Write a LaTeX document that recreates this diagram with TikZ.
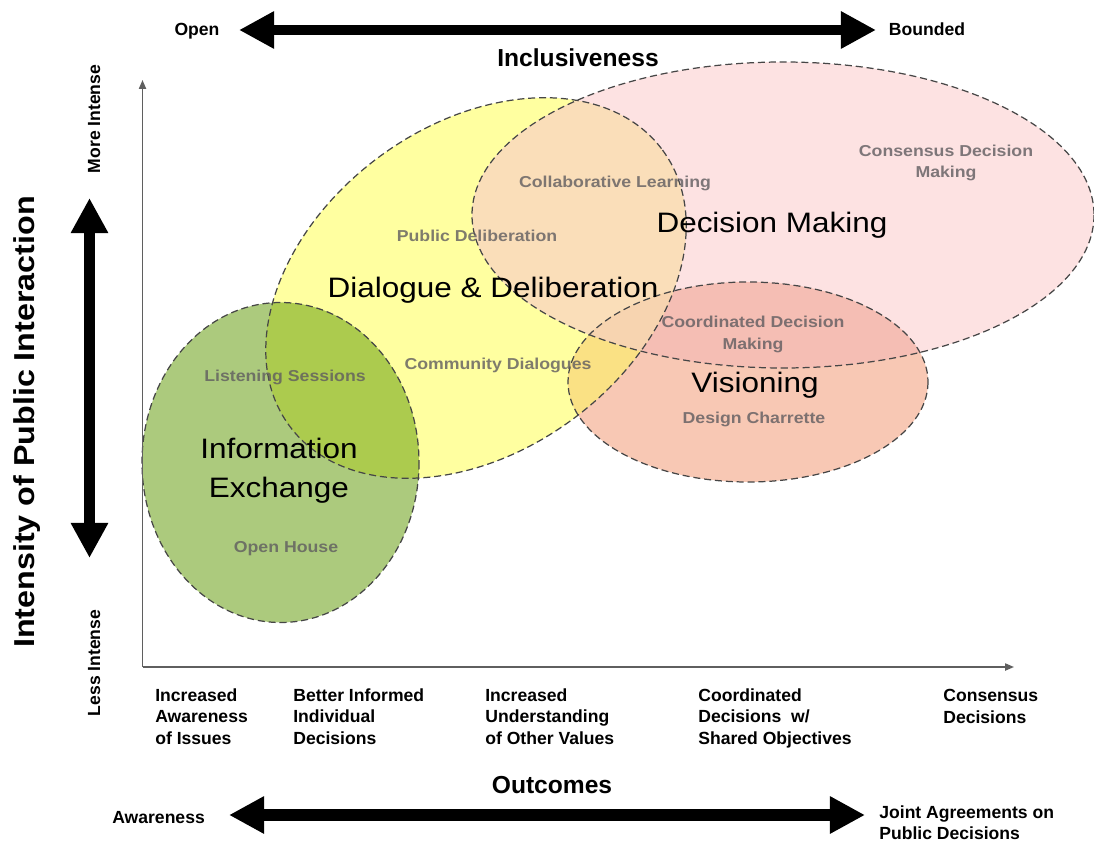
\documentclass[tikz,border=0pt]{standalone}
\usepackage{fontspec}
\setmainfont{Liberation Sans}
\newfontfamily\wideface[FakeStretch=1.12]{Liberation Sans}
\usetikzlibrary{arrows.meta}
\usetikzlibrary{positioning}

\definecolor{ieGreen}{RGB}{172,202,125}
\definecolor{ieOverlap}{RGB}{172,203,78}
\definecolor{ddYellow}{RGB}{255,255,160}
\definecolor{dmPink}{RGB}{253,226,226}
\definecolor{dmPeach}{RGB}{250,222,185}
\definecolor{vsSalmon}{RGB}{248,200,180}
\definecolor{vsPink}{RGB}{245,190,180}
\definecolor{vsYellow}{RGB}{250,225,132}
\definecolor{vsPeach}{RGB}{247,212,176}
\definecolor{rimgray}{RGB}{70,70,70}
\definecolor{axisgray}{RGB}{95,95,95}
\definecolor{labelgray}{RGB}{95,92,95}

\begin{document}
\begin{tikzpicture}[x=0.02cm, y=-0.02cm,
    rim/.style={draw=rimgray, line width=0.7pt, dash pattern=on 4pt off 2.2pt},
    big/.style={font=\wideface\fontsize{16}{22}\selectfont, inner sep=0pt, anchor=base, align=center},
    tool/.style={font=\wideface\bfseries\fontsize{9}{12}\selectfont, text=labelgray, text opacity=0.8, inner sep=0pt, anchor=base, align=center},
    axislabel/.style={font=\bfseries\fontsize{10}{11.5}\selectfont, inner sep=0pt, anchor=base, align=left},
    outcome/.style={font=\bfseries\fontsize{10}{12}\selectfont, inner sep=0pt, anchor=base west, align=left},
    fat/.style={line width=#1, {Triangle[length=20pt,width=20pt]}-{Triangle[length=20pt,width=20pt]}}]

    \useasboundingbox (0,0) rectangle (1094,844);

    % Ellipse fills
    \fill[ddYellow, rotate around={36.5:(476,288)}] (476,288) ellipse [x radius=232, y radius=163];
    \fill[dmPink] (783,215) ellipse [x radius=311, y radius=153];
    \begin{scope}
        \clip[rotate around={36.5:(476,288)}] (476,288) ellipse [x radius=232, y radius=163];
        \fill[dmPeach] (783,215) ellipse [x radius=311, y radius=153];
    \end{scope}
    \fill[ieGreen] (280.5,462.5) ellipse [x radius=138.5, y radius=160];
    \begin{scope}
        \clip[rotate around={36.5:(476,288)}] (476,288) ellipse [x radius=232, y radius=163];
        \fill[ieOverlap] (280.5,462.5) ellipse [x radius=138.5, y radius=160];
    \end{scope}
    \fill[vsSalmon] (748,382) ellipse [x radius=180, y radius=100];
    \begin{scope}
        \clip (748,382) ellipse [x radius=180, y radius=100];
        \fill[vsPink] (783,215) ellipse [x radius=311, y radius=153];
        \fill[vsYellow, rotate around={36.5:(476,288)}] (476,288) ellipse [x radius=232, y radius=163];
        \clip[rotate around={36.5:(476,288)}] (476,288) ellipse [x radius=232, y radius=163];
        \fill[vsPeach] (783,215) ellipse [x radius=311, y radius=153];
    \end{scope}

    % Dashed outlines
    \draw[rim, rotate around={36.5:(476,288)}] (476,288) ellipse [x radius=232, y radius=163];
    \draw[rim] (783,215) ellipse [x radius=311, y radius=153];
    \draw[rim] (280.5,462.5) ellipse [x radius=138.5, y radius=160];
    \draw[rim] (748,382) ellipse [x radius=180, y radius=100];

    % Axes
    \coordinate (origin) at (142.5,667);
    \coordinate (ytop) at (142.5,80);
    \coordinate (xend) at (1014,667);
    \draw[axisgray, line width=0.9pt, -{Triangle[length=5pt,width=4pt]}] (origin) -- (ytop);
    \draw[axisgray, line width=0.9pt, -{Triangle[length=5pt,width=4pt]}] (origin) -- (xend);

    % Big double arrows
    \coordinate (open-end) at (239,30);
    \coordinate (bounded-end) at (876,30);
    \draw[fat=5.7pt] (open-end) -- (bounded-end);
    \coordinate (more-end) at (89.5,198);
    \coordinate (less-end) at (89.5,558);
    \draw[fat=6.2pt] (more-end) -- (less-end);
    \coordinate (aware-end) at (229,815);
    \coordinate (joint-end) at (865,815);
    \draw[fat=7pt] (aware-end) -- (joint-end);

    % Main labels
    \node[big] (dialogue) at (493,297) {Dialogue \& Deliberation};
    \node[big] (decision) at (772,233) {Decision Making};
    \node[big] (visioning) at (755,392) {Visioning};
    \node[big] (information) at (279,497) {Information\\Exchange};

    % Example techniques
    \node[tool] (collab) at (615,188) {Collaborative Learning};
    \node[tool] (public) at (477,242) {Public Deliberation};
    \node[tool] (community) at (498,369) {Community Dialogues};
    \node[tool] (listening) at (285,381) {Listening Sessions};
    \node[tool] (openhouse) at (286,552) {Open House};
    \node[tool] (consensus) at (946,178) {Consensus Decision\\Making};
    \node[tool] (coordinated) at (753,349) {Coordinated Decision\\Making};
    \node[tool] (charrette) at (754,423) {Design Charrette};

    % Axis titles
    \node[axislabel] (open) at (197,36) {Open};
    \node[axislabel] (bounded) at (927,36) {Bounded};
    \node[axislabel, font=\bfseries\fontsize{14}{16}\selectfont] (inclusive) at (578,67) {Inclusiveness};
    \node[axislabel, rotate=90] (more) at (100,119) {More Intense};
    \node[axislabel, rotate=90] (less) at (100,663) {Less Intense};
    \node[axislabel, rotate=90, font=\wideface\bfseries\fontsize{16.4}{18}\selectfont] (intensity) at (34,422) {Intensity of Public Interaction};
    \node[axislabel, font=\bfseries\fontsize{14}{16}\selectfont] (outcomes) at (552,793) {Outcomes};
    \node[outcome] (awareness) at (112,823) {Awareness};
    \node[outcome, font=\bfseries\fontsize{10}{11.5}\selectfont] (joint) at (879,839) {Joint Agreements on\\Public Decisions};

    % Outcomes along the x axis
    \foreach \x/\y/\txt [count=\i] in {155/744/{Increased\\Awareness\\of Issues},
        293/744/{Better Informed\\Individual\\Decisions},
        485/744/{Increased\\Understanding\\of Other Values},
        698/744/{Coordinated\\Decisions~~w/\\Shared Objectives},
        943/723/{Consensus\\Decisions}} {
        \node[outcome] (result\i) at (\x,\y) {\txt};
    }
\end{tikzpicture}
\end{document}
